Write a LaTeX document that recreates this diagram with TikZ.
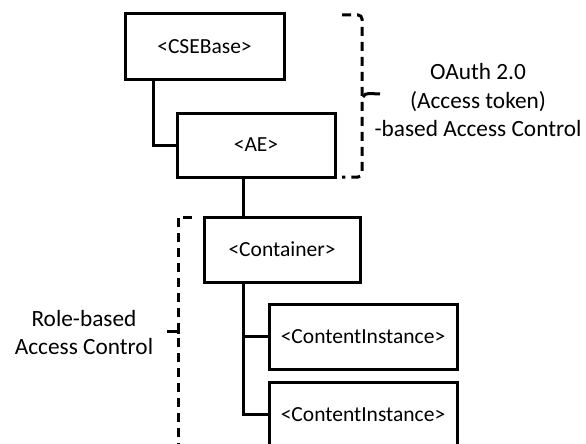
\documentclass[tikz,border=0pt]{standalone}
\usepackage{fontspec}
\setmainfont{Carlito}
\begin{document}
\begin{tikzpicture}[x=1pt,y=-1pt,
  resbox/.style={draw,line width=3pt,inner sep=0pt,font=\fontsize{21.5}{28}\selectfont},
  link/.style={line width=3pt},
  brace/.style={line width=3pt,dash pattern=on 9pt off 6pt},
  lbl/.style={align=center,inner sep=0pt,font=\fontsize{23.3}{28.5}\selectfont}]
\useasboundingbox (0,0) rectangle (586,444);

% resource tree
\node[resbox,minimum width=159pt,minimum height=65pt] (cse)  at (204.5,46.5) {<CSEBase>};
\node[resbox,minimum width=158pt,minimum height=64pt] (ae)   at (256,145)    {<AE>};
\node[resbox,minimum width=156pt,minimum height=65pt] (cont) at (282,249.5)  {<Container>};
\node[resbox,minimum width=188pt,minimum height=65pt] (ci1)  at (363,336.5)  {<ContentInstance>};
\node[resbox,minimum width=188pt,minimum height=65pt] (ci2)  at (363,414.5)  {<ContentInstance>};

% tree connectors
\coordinate (cspine) at (153,0);
\coordinate (spine)  at (243,0);
\draw[link] (cspine |- cse.south) |- (ae.west);
\draw[link] (spine |- ae.south) -- (spine |- cont.north);
\draw[link] (spine |- cont.south) |- (ci1.west);
\draw[link] (spine |- cont.south) |- (ci2.west);

% bracket for the upper part
\coordinate (rtop) at (342,15);
\coordinate (rbot) at (342,177);
\coordinate (rtip) at (380,94);
\draw[brace,rounded corners=4pt] (rtop) -- (362,15) -- (362,177) -- (rbot);
\draw[line width=3pt] (363,97) to[out=70,in=180] (369,93.5) -- (rtip);
\node[lbl] (oauth) at (478,100) {OAuth 2.0\\(Access token)\\-based Access Control};

% bracket for the lower part
\coordinate (ltop) at (192,217);
\coordinate (lbot) at (178,450);
\coordinate (ltip) at (167,331);
\draw[brace] (ltop) -- (178,217) -- (lbot);
\draw[line width=3pt] (178,328) -- (178,334) (178,331) -- (ltip);
\node[lbl] (role) at (84,332.5) {Role-based\\Access Control};
\end{tikzpicture}
\end{document}
